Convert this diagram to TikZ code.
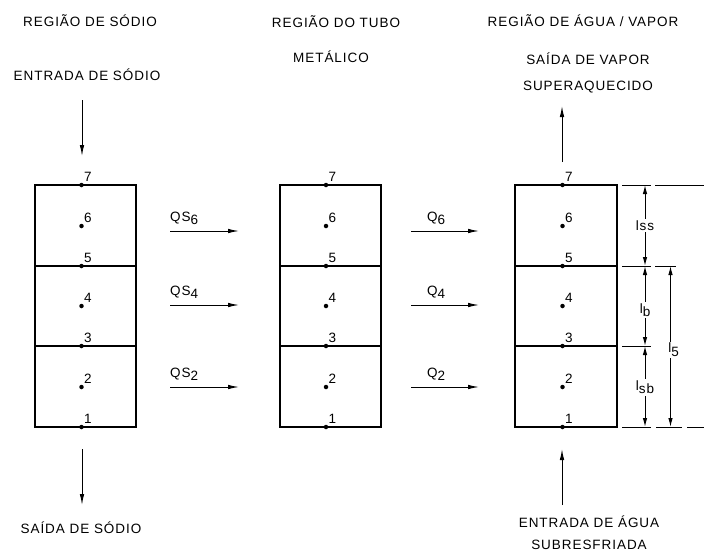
\documentclass[tikz,border=0pt]{standalone}
\usepackage{fontspec}
\setmainfont[LetterSpace=7]{Liberation Sans}
\usetikzlibrary{arrows.meta}
\newcommand{\lowr}[1]{\raisebox{-0.45ex}{#1}}
\begin{document}
\begin{tikzpicture}[x=1pt,y=-1pt,
  txt/.style={font=\fontsize{13.5}{16}\selectfont, inner sep=0pt},
  cell/.style={draw, line width=1.3pt},
  flow/.style={line width=1pt, -{Latex[length=11pt,width=4.5pt]}},
  dimline/.style={line width=1pt, {Latex[length=9pt,width=4.5pt]}-{Latex[length=9pt,width=4.5pt]}},
  ext/.style={line width=1pt},
  pt/.style={circle, fill, inner sep=0pt, minimum size=4.5pt},
  num/.style={txt, anchor=south west},
  dimtxt/.style={txt, fill=white, inner sep=1.5pt}]
\useasboundingbox (0,0) rectangle (704,554);

% three columns of cells (sodium, tube wall, water/steam)
\foreach \col/\xl/\xr/\xc in {s/35/136/81.5, t/280/381/326, w/515/617/562.5}{
  \draw[cell] (\xl,185) rectangle (\xr,427);
  \draw[cell] (\xl,266) -- (\xr,266);
  \draw[cell] (\xl,346) -- (\xr,346);
  \foreach \k/\yy in {7/185, 6/226, 5/266, 4/306, 3/346, 2/387, 1/427}{
    \node[pt] (\col\k) at (\xc,\yy) {};
    \node[num] at ([xshift=2.5pt,yshift=3.5pt]\col\k.center) {\k};
  }
}

% headings
\node[txt] (hs) at (90,21) {REGIÃO DE SÓDIO};
\node[txt] (ht) at (336,22) {REGIÃO DO TUBO};
\node[txt] (ht2) at (331,57) {METÁLICO};
\node[txt] (hw) at (583,21) {REGIÃO DE ÁGUA / VAPOR};

% inlet / outlet streams
\node[txt] (sin) at (87,75) {ENTRADA DE SÓDIO};
\coordinate (sinA) at (82,100);
\coordinate (sinB) at (82,156);
\draw[flow] (sinA) -- (sinB);

\node[txt] (sout) at (81,528) {SAÍDA DE SÓDIO};
\coordinate (soutA) at (82,449);
\coordinate (soutB) at (82,505);
\draw[flow] (soutA) -- (soutB);

\node[txt] (vout) at (588,59) {SAÍDA DE VAPOR};
\node[txt] (vout2) at (588,87) {SUPERAQUECIDO};
\coordinate (voutA) at (562,162);
\coordinate (voutB) at (562,106);
\draw[flow] (voutA) -- (voutB);

\node[txt] (win) at (589,522) {ENTRADA DE ÁGUA};
\node[txt] (win2) at (589,545) {SUBRESFRIADA};
\coordinate (winA) at (562,505);
\coordinate (winB) at (562,449);
\draw[flow] (winA) -- (winB);

% heat flows
\foreach \k/\yy in {6/231, 4/305, 2/387}{
  \coordinate (qsA\k) at (170,\yy);
  \coordinate (qsB\k) at (239,\yy);
  \draw[flow] (qsA\k) -- (qsB\k);
  \node[txt, anchor=south west] at ([yshift=6pt]qsA\k) {QS\lowr{\k}};
  \coordinate (qA\k) at (411,\yy);
  \coordinate (qB\k) at (479,\yy);
  \draw[flow] (qA\k) -- (qB\k);
  \node[txt, anchor=south west] at ([xshift=16pt,yshift=6pt]qA\k) {Q\lowr{\k}};
}

% extension lines
\draw[ext] (622,185) -- (651,185) (655,185) -- (704,185);
\draw[ext] (622,266) -- (651,266) (655,266) -- (676,266);
\draw[ext] (622,346) -- (651,346);
\draw[ext] (622,427) -- (651,427) (656,427) -- (682,427) (687,427) -- (704,427);

% dimensions
\coordinate (d1) at (645,185);
\coordinate (d2) at (645,266);
\coordinate (d3) at (645,346);
\coordinate (d4) at (645,427);
\coordinate (e1) at (670.5,266);
\coordinate (e2) at (670.5,427);
\draw[dimline] (d1) -- node[dimtxt] {lss} (d2);
\draw[dimline] (d2) -- node[dimtxt, yshift=-4pt] {l\lowr{b}} (d3);
\draw[dimline] (d3) -- node[dimtxt, yshift=-1pt] {l\lowr{sb}} (d4);
\draw[dimline] (e1) -- node[dimtxt, pos=0.52, xshift=3pt] {l\lowr{5}} (e2);
\end{tikzpicture}
\end{document}
